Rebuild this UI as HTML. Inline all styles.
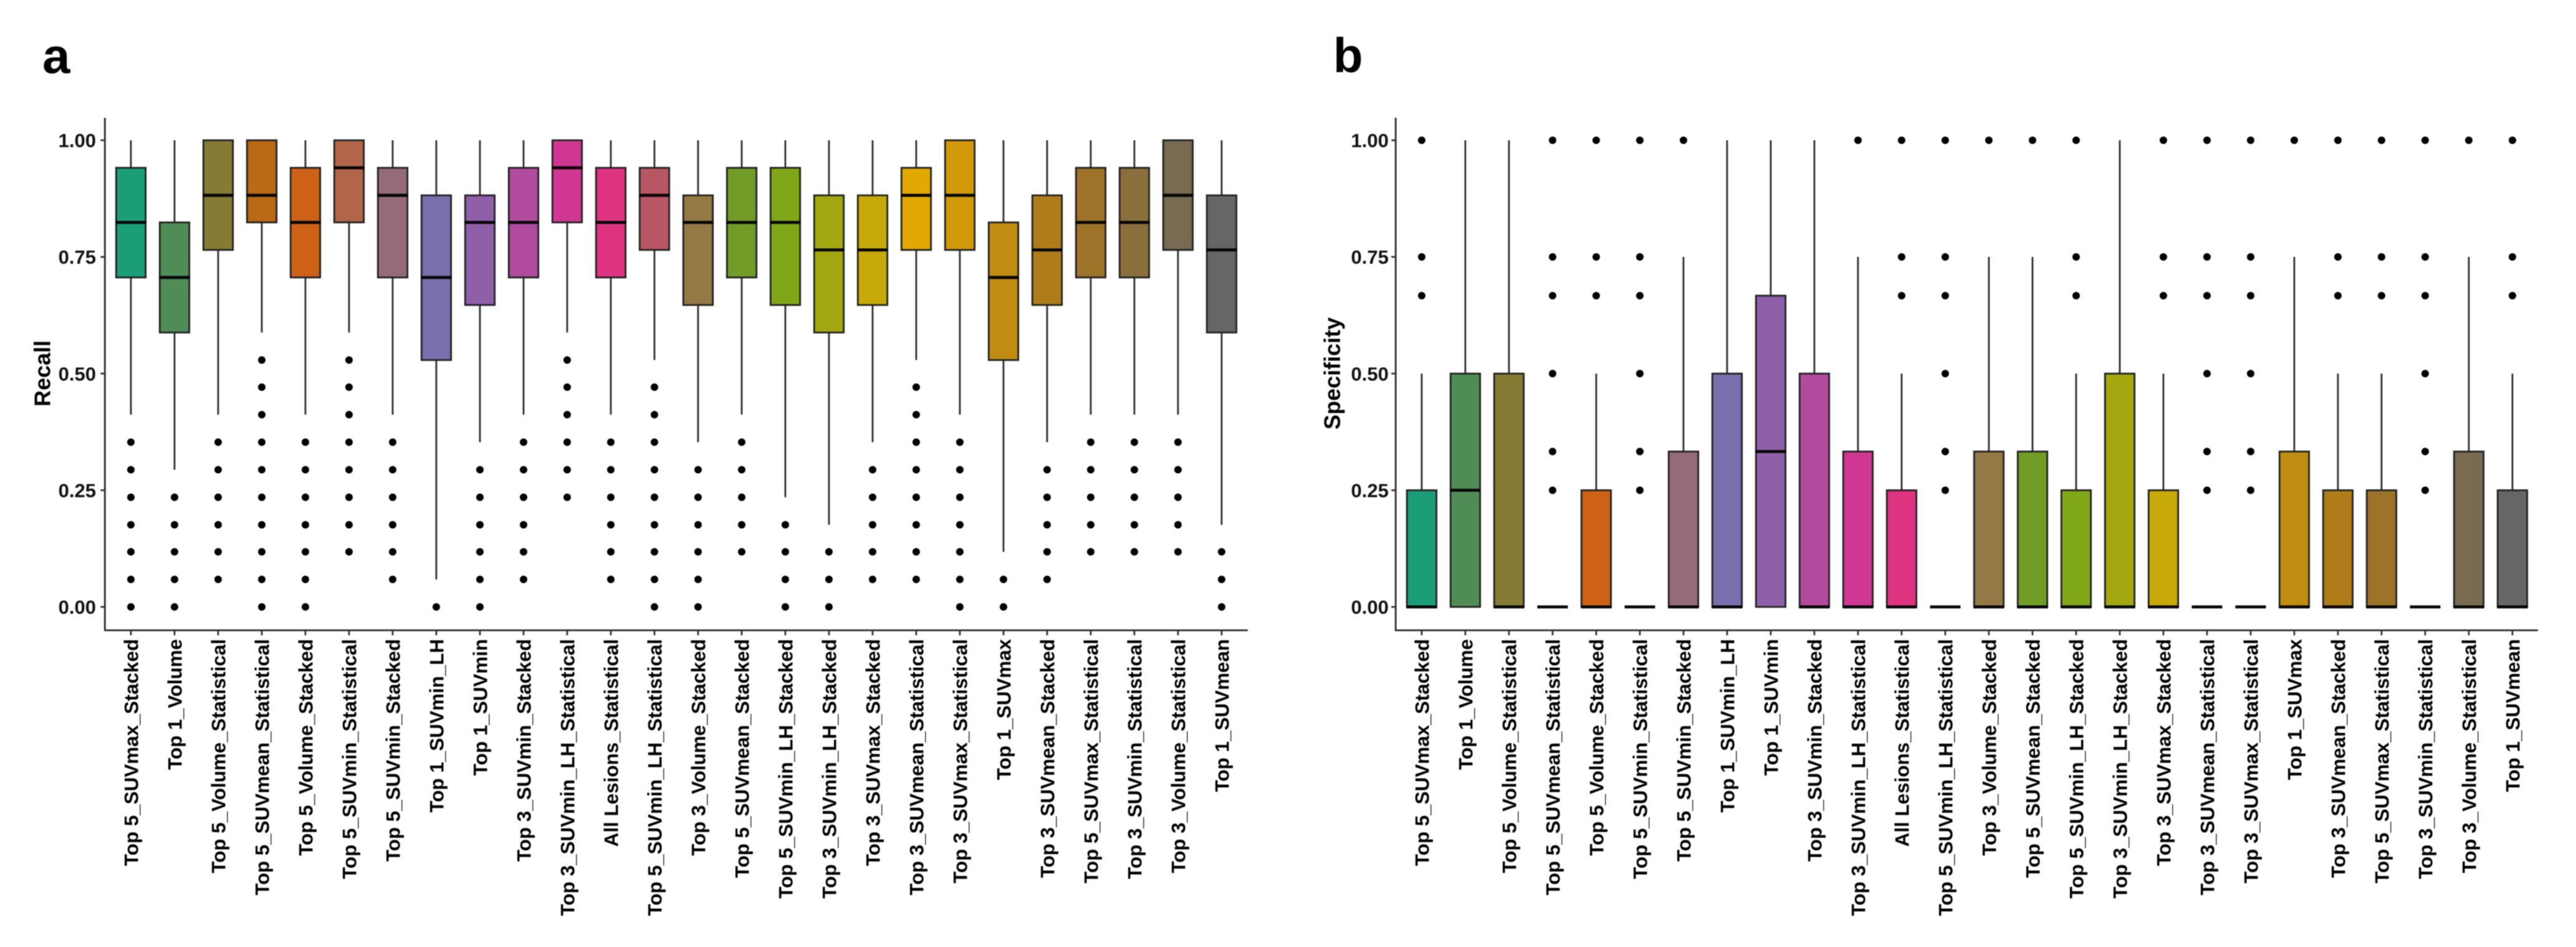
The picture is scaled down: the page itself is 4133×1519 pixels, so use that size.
<!DOCTYPE html>
<html lang="en">
<head>
<meta charset="utf-8">
<title>Recall and specificity box plots</title>
<style>
html,body{margin:0;padding:0;background:#fff;width:4133px;height:1519px;overflow:hidden}
svg{display:block;font-family:"Liberation Sans",Arial,sans-serif;font-weight:700;filter:blur(0.7px)}
</style>
</head>
<body>
<svg id="figure" xmlns="http://www.w3.org/2000/svg" width="4133" height="1519" viewBox="0 0 4133 1519">
<rect width="4133" height="1519" fill="#fff"/>
<text x="68" y="117" font-size="80" fill="#000">a</text>
<text x="2139" y="115.500" font-size="78" fill="#000">b</text>
</svg>
<script>
const categories = ["Top 5_SUVmax_Stacked","Top 1_Volume","Top 5_Volume_Statistical","Top 5_SUVmean_Statistical","Top 5_Volume_Stacked","Top 5_SUVmin_Statistical","Top 5_SUVmin_Stacked","Top 1_SUVmin_LH","Top 1_SUVmin","Top 3_SUVmin_Stacked","Top 3_SUVmin_LH_Statistical","All Lesions_Statistical","Top 5_SUVmin_LH_Statistical","Top 3_Volume_Stacked","Top 5_SUVmean_Stacked","Top 5_SUVmin_LH_Stacked","Top 3_SUVmin_LH_Stacked","Top 3_SUVmax_Stacked","Top 3_SUVmean_Statistical","Top 3_SUVmax_Statistical","Top 1_SUVmax","Top 3_SUVmean_Stacked","Top 5_SUVmax_Statistical","Top 3_SUVmin_Statistical","Top 3_Volume_Statistical","Top 1_SUVmean"];
const colors = ["#1b9e77","#508c56","#857b35","#bb6915","#cd6117","#b1664a","#956b79","#796fac","#905fa9","#b04b9e","#d03792","#dd3381","#b95664","#947945","#709c27","#80a718","#a3a811","#c7aa09","#e3a903","#d29a0b","#c08c12","#ae7d1a","#9c7329","#8a6f3d","#786b51","#666666"];
const yTicks = [0, 0.25, 0.5, 0.75, 1];
const yTickLabels = ["0.00","0.25","0.50","0.75","1.00"];

const recallQ1 = [0.706,0.588,0.765,0.824,0.706,0.824,0.706,0.529,0.647,0.706,0.824,0.706,0.765,0.647,0.706,0.647,0.588,0.647,0.765,0.765,0.529,0.647,0.706,0.706,0.765,0.588];
const recallMedian = [0.824,0.706,0.882,0.882,0.824,0.941,0.882,0.706,0.824,0.824,0.941,0.824,0.882,0.824,0.824,0.824,0.765,0.765,0.882,0.882,0.706,0.765,0.824,0.824,0.882,0.765];
const recallQ3 = [0.941,0.824,1,1,0.941,1,0.941,0.882,0.882,0.941,1,0.941,0.941,0.882,0.941,0.941,0.882,0.882,0.941,1,0.824,0.882,0.941,0.941,1,0.882];
const recallWhiskerLow = [0.412,0.294,0.412,0.588,0.412,0.588,0.412,0.059,0.353,0.412,0.588,0.412,0.529,0.353,0.412,0.235,0.176,0.353,0.529,0.412,0.118,0.353,0.412,0.412,0.412,0.176];
const recallWhiskerHigh = [1,1,1,1,1,1,1,1,1,1,1,1,1,1,1,1,1,1,1,1,1,1,1,1,1,1];
const recallOutliers = [
  [0.353,0.294,0.235,0.176,0.118,0.059,0],
  [0.235,0.176,0.118,0.059,0],
  [0.353,0.294,0.235,0.176,0.118,0.059],
  [0.529,0.471,0.412,0.353,0.294,0.235,0.176,0.118,0.059,0],
  [0.353,0.294,0.235,0.176,0.118,0.059,0],
  [0.529,0.471,0.412,0.353,0.294,0.235,0.176,0.118],
  [0.353,0.294,0.235,0.176,0.118,0.059],
  [0],
  [0.294,0.235,0.176,0.118,0.059,0],
  [0.353,0.294,0.235,0.176,0.118,0.059],
  [0.529,0.471,0.412,0.353,0.294,0.235],
  [0.353,0.294,0.235,0.176,0.118,0.059],
  [0.471,0.412,0.353,0.294,0.235,0.176,0.118,0.059,0],
  [0.294,0.235,0.176,0.118,0.059,0],
  [0.353,0.294,0.235,0.176,0.118],
  [0.176,0.118,0.059,0],
  [0.118,0.059,0],
  [0.294,0.235,0.176,0.118,0.059],
  [0.471,0.412,0.353,0.294,0.235,0.176,0.118,0.059],
  [0.353,0.294,0.235,0.176,0.118,0.059,0],
  [0.059,0],
  [0.294,0.235,0.176,0.118,0.059],
  [0.353,0.294,0.235,0.176,0.118],
  [0.353,0.294,0.235,0.176,0.118],
  [0.353,0.294,0.235,0.176,0.118],
  [0.118,0.059,0]
];

const specificityQ1 = [0,0,0,0,0,0,0,0,0,0,0,0,0,0,0,0,0,0,0,0,0,0,0,0,0,0];
const specificityMedian = [0,0.25,0,0,0,0,0,0,0.333,0,0,0,0,0,0,0,0,0,0,0,0,0,0,0,0,0];
const specificityQ3 = [0.25,0.5,0.5,0,0.25,0,0.333,0.5,0.667,0.5,0.333,0.25,0,0.333,0.333,0.25,0.5,0.25,0,0,0.333,0.25,0.25,0,0.333,0.25];
const specificityWhiskerLow = [0,0,0,0,0,0,0,0,0,0,0,0,0,0,0,0,0,0,0,0,0,0,0,0,0,0];
const specificityWhiskerHigh = [0.5,1,1,0,0.5,0,0.75,1,1,1,0.75,0.5,0,0.75,0.75,0.5,1,0.5,0,0,0.75,0.5,0.5,0,0.75,0.5];
const specificityOutliers = [
  [1,0.75,0.667],
  [],
  [],
  [1,0.75,0.667,0.5,0.333,0.25],
  [1,0.75,0.667],
  [1,0.75,0.667,0.5,0.333,0.25],
  [1],
  [],
  [],
  [],
  [1],
  [1,0.75,0.667],
  [1,0.75,0.667,0.5,0.333,0.25],
  [1],
  [1],
  [1,0.75,0.667],
  [],
  [1,0.75,0.667],
  [1,0.75,0.667,0.5,0.333,0.25],
  [1,0.75,0.667,0.5,0.333,0.25],
  [1],
  [1,0.75,0.667],
  [1,0.75,0.667],
  [1,0.75,0.667,0.5,0.333,0.25],
  [1],
  [1,0.75,0.667]
];

const NS = "http://www.w3.org/2000/svg";
const figure = document.getElementById("figure");

function make(parent, tag, attrs, text) {
  const el = document.createElementNS(NS, tag);
  for (const k in attrs) el.setAttribute(k, attrs[k]);
  if (text !== undefined) el.textContent = text;
  parent.appendChild(el);
  return el;
}

function drawPanel(p) {
  const yScale = v => 973.5 - v * 748.5;
  const xScale = i => p.firstX + i * 70;
  const axisBottom = 1011;
  const axisTop = 189;

  const panel = make(figure, "g", {});
  
  

  const yAxis = make(panel, "line", {x1: p.axisX, x2: p.axisX, y1: axisTop, y2: axisBottom + 1.3, stroke: "#2a2a2a", "stroke-width": 2.8});
  
  

  const xAxis = make(panel, "line", {x1: p.axisX, x2: p.axisEnd, y1: axisBottom, y2: axisBottom, stroke: "#2a2a2a", "stroke-width": 2.8});
  
  

  yTicks.forEach((t, i) => {
    const tick = make(panel, "line", {x1: p.axisX - 7, x2: p.axisX, y1: yScale(t), y2: yScale(t), stroke: "#333", "stroke-width": 2.8});
    
    
    const label = make(panel, "text", {x: p.labelEnd, y: yScale(t) + 11, "text-anchor": "end", "font-size": 31, fill: "#111"}, yTickLabels[i]);
    
    
  });

  const title = make(panel, "text", {transform: "translate(" + p.titleX + ",599) rotate(-90)", "text-anchor": "middle", "font-size": 36, fill: "#000"}, p.title);
  
  

  categories.forEach((c, i) => {
    const x = xScale(i);
    const g = make(panel, "g", {});
    
    

    if (p.whiskerHigh[i] > p.q3[i]) {
      const upper = make(g, "line", {x1: x, x2: x, y1: yScale(p.whiskerHigh[i]), y2: yScale(p.q3[i]), stroke: "#2c2c2c", "stroke-width": 2.8});
      
      
    }
    if (p.whiskerLow[i] < p.q1[i]) {
      const lower = make(g, "line", {x1: x, x2: x, y1: yScale(p.q1[i]), y2: yScale(p.whiskerLow[i]), stroke: "#2c2c2c", "stroke-width": 2.8});
      
      
    }

    const box = make(g, "rect", {x: x - 23.7, y: yScale(p.q3[i]), width: 47.4, height: yScale(p.q1[i]) - yScale(p.q3[i]), fill: colors[i], stroke: "#222", "stroke-width": 2.8});
    
    

    const median = make(g, "line", {x1: x - 24.5, x2: x + 24.5, y1: yScale(p.median[i]), y2: yScale(p.median[i]), stroke: "#050505", "stroke-width": 4.8});
    
    

    p.outliers[i].forEach(v => {
      const dot = make(g, "circle", {cx: x, cy: yScale(v), r: 6, fill: "#000"});
      
      
    });

    const tick = make(panel, "line", {x1: x, x2: x, y1: axisBottom, y2: axisBottom + 8, stroke: "#333", "stroke-width": 2.8});
    
    

    const label = make(panel, "text", {transform: "translate(" + (x + 11.5) + ",1025) rotate(-90)", "text-anchor": "end", "font-size": 31.4, fill: "#000"}, c);
    
    
  });
}

drawPanel({name: "recall", title: "Recall", firstX: 210, axisX: 168.3, axisEnd: 2002, labelEnd: 154, titleX: 80.5,
  q1: recallQ1, median: recallMedian, q3: recallQ3, whiskerLow: recallWhiskerLow, whiskerHigh: recallWhiskerHigh, outliers: recallOutliers});
drawPanel({name: "specificity", title: "Specificity", firstX: 2281, axisX: 2239.3, axisEnd: 4072, labelEnd: 2228, titleX: 2150,
  q1: specificityQ1, median: specificityMedian, q3: specificityQ3, whiskerLow: specificityWhiskerLow, whiskerHigh: specificityWhiskerHigh, outliers: specificityOutliers});
</script>
</body>
</html>
